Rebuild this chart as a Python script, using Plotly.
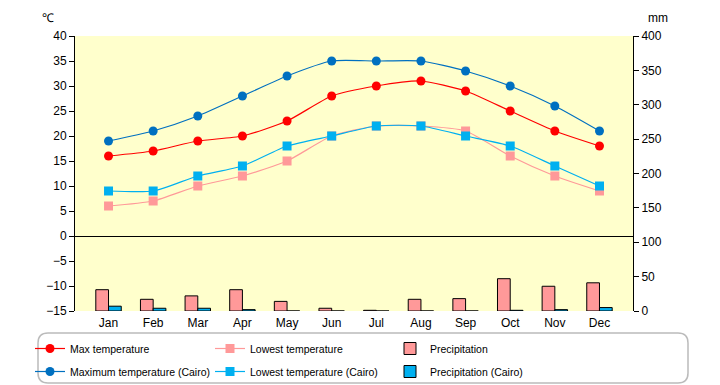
import plotly.graph_objects as go

months = ["Jan", "Feb", "Mar", "Apr", "May", "Jun", "Jul", "Aug", "Sep", "Oct", "Nov", "Dec"]
max_temp = [16, 17, 19, 20, 23, 28, 30, 31, 29, 25, 21, 18]
low_temp = [6, 7, 10, 12, 15, 20, 22, 22, 21, 16, 12, 9]
precip = [31, 17, 22, 31, 14, 4, 1, 17, 18, 47, 36, 41]
max_cairo = [19, 21, 24, 28, 32, 35, 35, 35, 33, 30, 26, 21]
low_cairo = [9, 9, 12, 14, 18, 20, 22, 22, 20, 18, 14, 10]
precip_cairo = [7, 4, 4, 2, 0, 0, 0, 0, 0, 1, 2, 5]

# page body has an 8px margin: build the figure in screen coords minus 8
OFF = 8
W, H = 720 - OFF, 385 - OFF
L, T = 75 - OFF, 36 - OFF
R = W - (633 - OFF)
B = H - (311 - OFF)
PW, PH = W - L - R, H - T - B

def px2x(px):
    return (px - OFF - L) / PW

def px2y(py):
    return (H - B - (py - OFF)) / PH

fig = go.Figure()

def line(name, y, color, symbol, legend):
    fig.add_trace(go.Scatter(
        x=months, y=y, name=name, mode="lines+markers",
        line=dict(color=color, width=1.2, shape="spline", smoothing=0.6),
        marker=dict(color=color, symbol=symbol, size=9),
        yaxis="y", legend=legend))

def bar(name, y, color, legend):
    fig.add_trace(go.Bar(
        x=months, y=y, name=name, marker=dict(color=color, line=dict(color="black", width=1)),
        yaxis="y2", legend=legend))

line("Max temperature", max_temp, "#FF0000", "circle", "legend")
line("Lowest temperature", low_temp, "#FF9999", "square", "legend")
bar("Precipitation", precip, "#FF9999", "legend")
line("Maximum temperature (Cairo)", max_cairo, "#0070C0", "circle", "legend2")
line("Lowest temperature (Cairo)", low_cairo, "#00B0F0", "square", "legend2")
bar("Precipitation (Cairo)", precip_cairo, "#00B0F0", "legend2")

font = dict(family="Liberation Sans, Arial, sans-serif", size=12, color="black")
lfont = dict(family="Liberation Sans, Arial, sans-serif", size=10.5, color="black")

# rounded legend frame
x0, x1, y0, y1, r = 38, 688, 333, 383, 10
path = (f"M {px2x(x0 + r)} {px2y(y0)} L {px2x(x1 - r)} {px2y(y0)} "
        f"Q {px2x(x1)} {px2y(y0)} {px2x(x1)} {px2y(y0 + r)} "
        f"L {px2x(x1)} {px2y(y1 - r)} Q {px2x(x1)} {px2y(y1)} {px2x(x1 - r)} {px2y(y1)} "
        f"L {px2x(x0 + r)} {px2y(y1)} Q {px2x(x0)} {px2y(y1)} {px2x(x0)} {px2y(y1 - r)} "
        f"L {px2x(x0)} {px2y(y0 + r)} Q {px2x(x0)} {px2y(y0)} {px2x(x0 + r)} {px2y(y0)} Z")

fig.update_layout(
    width=W, height=H,
    margin=dict(l=L, r=R, t=T, b=B, pad=0, autoexpand=False),
    paper_bgcolor="white", plot_bgcolor="#FFFFCC",
    font=font,
    barmode="group", bargap=0.43, bargroupgap=0,
    xaxis=dict(showgrid=False, showline=False, ticks="", tickfont=font, ticklabelstandoff=3),
    yaxis=dict(range=[-15, 40], dtick=5, showgrid=False, showline=True, linecolor="black",
               ticks="outside", ticklen=5, tickcolor="black", zeroline=True,
               zerolinecolor="black", zerolinewidth=1, tickfont=font),
    yaxis2=dict(range=[0, 400], dtick=50, overlaying="y", side="right", showgrid=False,
                showline=True, linecolor="black", ticks="outside", ticklen=5,
                tickcolor="black", zeroline=False, tickfont=font),
    legend=dict(orientation="h", x=px2x(30), y=px2y(334), xanchor="left", yanchor="top",
                entrywidth=135, font=lfont, bgcolor="rgba(0,0,0,0)", itemwidth=30),
    legend2=dict(orientation="h", x=px2x(30), y=px2y(357), xanchor="left", yanchor="top",
                 entrywidth=135, font=lfont, bgcolor="rgba(0,0,0,0)", itemwidth=30),
    shapes=[dict(type="path", xref="paper", yref="paper", path=path,
                 line=dict(color="#BBBBBB", width=1.5), layer="below")],
    annotations=[
        dict(text="℃", x=px2x(48), y=px2y(18), xref="paper", yref="paper",
             xanchor="center", yanchor="middle", showarrow=False, font=font),
        dict(text="mm", x=px2x(658), y=px2y(18), xref="paper", yref="paper",
             xanchor="center", yanchor="middle", showarrow=False, font=font),
    ],
)

fig.write_html("out.html")
